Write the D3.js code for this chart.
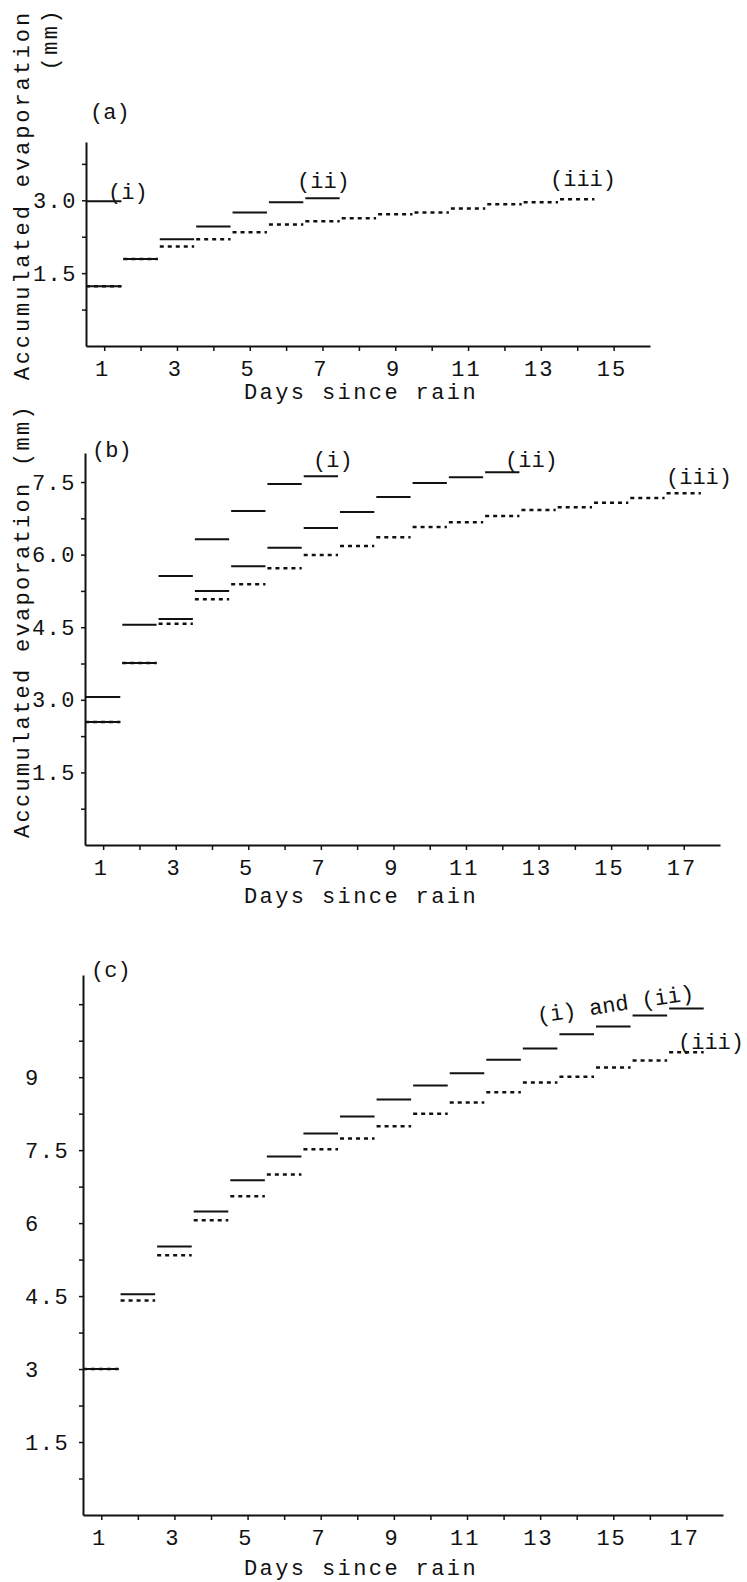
<!DOCTYPE html>
<meta charset="utf-8">
<script src="https://d3js.org/d3.v7.min.js"></script>
<style>
  body { margin: 0; background: #fff; }
  text { font-family: "Liberation Mono", "DejaVu Sans Mono", monospace; fill: #111; }
</style>
<div id="chart"></div>
<script>

// accumulated evaporation (mm) per day since rain
// panel (a)
var a_i   = [2.98];
var a_ii  = [1.23, 1.79, 2.20, 2.46, 2.75, 2.96, 3.04];
var a_iii = [1.23, 1.79, 2.05, 2.20, 2.34, 2.50, 2.57, 2.63, 2.71, 2.75, 2.83, 2.92, 2.96, 3.02];
// panel (b)
var b_i   = [3.06, 4.55, 5.56, 6.32, 6.90, 7.46, 7.62];
var b_ii  = [2.54, 3.76, 4.67, 5.25, 5.76, 6.14, 6.55, 6.88, 7.19, 7.48, 7.60, 7.70];
var b_iii = [2.54, 3.76, 4.57, 5.08, 5.39, 5.72, 5.99, 6.18, 6.36, 6.57, 6.67, 6.80, 6.92, 6.98, 7.07, 7.17, 7.27];
// panel (c): (i) and (ii) coincide
var c_i_ii = [3.00, 4.54, 5.52, 6.24, 6.88, 7.37, 7.84, 8.19, 8.54, 8.83, 9.08, 9.36, 9.59, 9.88, 10.04, 10.27, 10.41];
var c_iii  = [3.00, 4.41, 5.34, 6.06, 6.55, 7.00, 7.52, 7.74, 7.99, 8.25, 8.48, 8.69, 8.89, 9.01, 9.20, 9.34, 9.51];

// axis ticks
var yTicksA = [1.5, 3.0];
var yTicksB = [1.5, 3.0, 4.5, 6.0, 7.5];
var yTicksC = [1.5, 3, 4.5, 6, 7.5, 9];
var daysA = d3.range(1, 16);
var daysBC = d3.range(1, 18);

var W = 747, H = 1582;
var svg = d3.select("#chart").append("svg")
    .attr("width", W)
    .attr("height", H);

var panels = [
  { xr: [86, 650], xmax: 16, yr: [346, 142], ymax: 4.2, yticks: yTicksA, fmt: d3.format(".1f"),
    days: daysA, labelLeft: false, titleDy: 53,
    series: [{ v: a_i, dash: false }, { v: a_ii, dash: false }, { v: a_iii, dash: true }] },
  { xr: [85, 720], xmax: 18, yr: [845, 453], ymax: 8.1, yticks: yTicksB, fmt: d3.format(".1f"),
    days: daysBC, labelLeft: false, titleDy: 58,
    series: [{ v: b_i, dash: false }, { v: b_ii, dash: false }, { v: b_iii, dash: true }] },
  { xr: [83, 723], xmax: 18, yr: [1515, 975], ymax: 11.1, yticks: yTicksC, fmt: function(d) { return "" + d; },
    days: daysBC, labelLeft: true, titleDy: 60,
    series: [{ v: c_i_ii, dash: false }, { v: c_iii, dash: true }] }
];

panels.forEach(function(p) {
  var x = d3.scaleLinear().domain([0.5, p.xmax]).range(p.xr);
  var y = d3.scaleLinear().domain([0, p.ymax]).range(p.yr);

  var g = svg.append("g");

  // x axis
  var gx = g.append("g")
      .attr("transform", "translate(0," + p.yr[0] + ")")
      .call(d3.axisBottom(x)
        .tickValues(p.days)
        .tickFormat(function(d) { return d % 2 ? d : ""; })
        .tickSize(5).tickSizeOuter(0).tickPadding(9));
  gx.selectAll("text")
      .style("font-size", "22px")
      .style("letter-spacing", "2px")
      .attr("dx", "-0.1em");

  // y axis (minor ticks every 0.75)
  var gy = g.append("g")
      .attr("transform", "translate(" + p.xr[0] + ",0)")
      .call(d3.axisLeft(y)
        .tickValues(d3.range(0.75, p.ymax, 0.75))
        .tickFormat(function(d) {
          var hit = p.yticks.filter(function(t) { return Math.abs(t - d) < 1e-6; });
          return hit.length ? p.fmt(hit[0]) : "";
        })
        .tickSize(4).tickSizeOuter(0).tickPadding(5));
  gy.selectAll("text")
      .style("font-size", "22px")
      .style("letter-spacing", "1.5px");
  if (p.labelLeft) {
    gy.selectAll("text").attr("text-anchor", "start").attr("x", 25 - p.xr[0]);
  }
  g.selectAll(".domain").attr("stroke", "#111").attr("stroke-width", 2);
  g.selectAll(".tick line").attr("stroke", "#111").attr("stroke-width", 1.5);

  // step segments, one per day; dashed drawn last so overlaps show
  p.series.forEach(function(s) {
    g.selectAll(null)
      .data(s.v)
      .enter()
      .append("line")
        .attr("x1", function(d, i) { return x(i + 1 - 0.5) + (i === 0 ? 0 : 1); })
        .attr("x2", function(d, i) { return x(i + 1 + 0.5) - 1; })
        .attr("y1", function(d) { return y(d); })
        .attr("y2", function(d) { return y(d); })
        .attr("stroke", "#111")
        .attr("stroke-width", s.dash ? 2.5 : 2)
        .attr("stroke-dasharray", s.dash ? "4,4" : null);
  });

  // x axis title
  g.append("text")
      .attr("x", 361)
      .attr("y", p.yr[0] + p.titleDy)
      .attr("text-anchor", "middle")
      .style("font-size", "22px")
      .style("letter-spacing", "2.4px")
      .text("Days since rain");
});

// y axis titles
svg.append("text")
    .attr("transform", "translate(29,10) rotate(-90)")
    .attr("text-anchor", "end")
    .style("font-size", "22px")
    .style("letter-spacing", "2.9px")
    .text("Accumulated evaporation");
svg.append("text")
    .attr("transform", "translate(57,8) rotate(-90)")
    .attr("text-anchor", "end")
    .style("font-size", "22px")
    .style("letter-spacing", "2.4px")
    .text("(mm)");
svg.append("text")
    .attr("transform", "translate(29,621) rotate(-90)")
    .attr("text-anchor", "middle")
    .style("font-size", "22px")
    .style("letter-spacing", "2.3px")
    .text("Accumulated evaporation (mm)");

// panel letters and curve labels
function label(txt, px, py, anchor) {
  return svg.append("text")
      .attr("x", px).attr("y", py)
      .attr("text-anchor", anchor || "start")
      .style("font-size", "22px")
      .text(txt);
}
label("(a)", 90, 119);
label("(i)", 108, 199);
label("(ii)", 297, 188);
label("(iii)", 550, 186);

label("(b)", 92, 457);
label("(i)", 313, 467);
label("(ii)", 505, 467);
label("(iii)", 666, 484);

label("(c)", 91, 977);
label("(i) and (ii)", 0, 0)
    .attr("transform", "translate(538,1023) rotate(-8.5)");
label("(iii)", 678, 1049);

</script>
